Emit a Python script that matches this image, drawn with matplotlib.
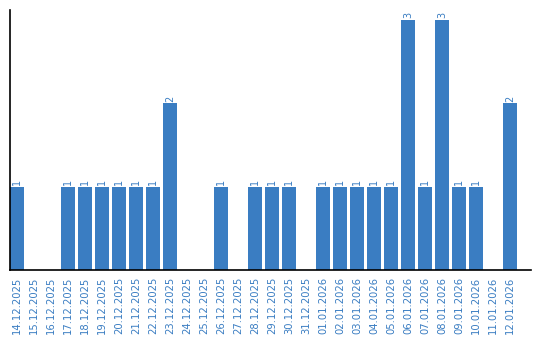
import matplotlib
matplotlib.use("Agg")
import matplotlib.pyplot as plt

dates = ["14.12.2025", "15.12.2025", "16.12.2025", "17.12.2025", "18.12.2025",
         "19.12.2025", "20.12.2025", "21.12.2025", "22.12.2025", "23.12.2025",
         "24.12.2025", "25.12.2025", "26.12.2025", "27.12.2025", "28.12.2025",
         "29.12.2025", "30.12.2025", "31.12.2025", "01.01.2026", "02.01.2026",
         "03.01.2026", "04.01.2026", "05.01.2026", "06.01.2026", "07.01.2026",
         "08.01.2026", "09.01.2026", "10.01.2026", "11.01.2026", "12.01.2026"]
counts = [1, 0, 0, 1, 1, 1, 1, 1, 1, 2,
          0, 0, 1, 0, 1, 1, 1, 0, 1, 1,
          1, 1, 1, 3, 1, 3, 1, 1, 0, 2]

BLUE = "#3a7dc2"

fig = plt.figure(figsize=(5.4, 3.4), dpi=100)
ax = fig.add_axes([10/540, 70/340, 521/540, 260/340])

x = list(range(len(dates)))
ax.bar(x, counts, width=14/17, color=BLUE)
for xi, c in zip(x, counts):
    if c > 0:
        ax.text(xi, c + 0.02, str(c), rotation=90, ha="center", va="bottom",
                color=BLUE, fontsize=7)

ax.set_xlim(-0.41, 30.24)
ax.set_ylim(0, 3.12)
ax.set_xticks(x)
ax.set_xticklabels(dates, rotation=90, color=BLUE, fontsize=7.2)
ax.tick_params(axis="x", length=0, pad=5)
ax.set_yticks([])
for s in ["top", "right"]:
    ax.spines[s].set_visible(False)
ax.spines["left"].set_linewidth(1.2)
ax.spines["bottom"].set_linewidth(1.2)

fig.savefig("out.png", dpi=100)
